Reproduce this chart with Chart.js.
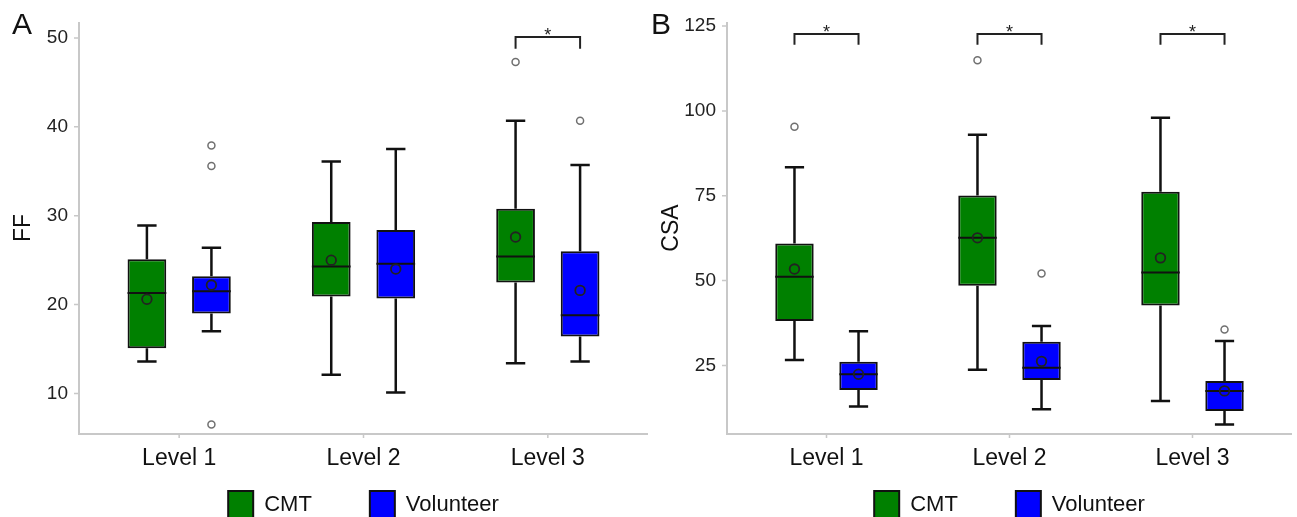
<!DOCTYPE html>
<html>
<head>
<meta charset="utf-8">
<script src="https://cdn.jsdelivr.net/npm/chart.js@4.4.0/dist/chart.umd.min.js"></script>
<style>
  body { margin: 0; background: #fff; }
  #wrap { position: relative; width: 1297px; height: 517px; overflow: hidden; }
  canvas { position: absolute; top: 0; }
</style>
</head>
<body>
<div id="wrap">
  <canvas id="chartA" width="648" height="530" style="left:0"></canvas>
  <canvas id="chartB" width="649" height="530" style="left:648px"></canvas>
</div>
<script>
const levels = ['Level 1', 'Level 2', 'Level 3'];
const groups = ['CMT', 'Volunteer'];

// FF (panel A)
const ffTicks = [10, 20, 30, 40, 50];
const ffCmtMin = [13.6, 12.1, 13.4];
const ffCmtQ1 = [15.1, 20.9, 22.5];
const ffCmtMedian = [21.3, 24.3, 25.4];
const ffCmtQ3 = [25.1, 29.3, 30.8];
const ffCmtMax = [28.9, 36.1, 40.7];
const ffCmtMean = [20.6, 25.0, 27.6];
const ffCmtOutliers = [[], [], [47.3]];
const ffVolMin = [17.0, 10.1, 13.6];
const ffVolQ1 = [19.0, 20.7, 16.4];
const ffVolMedian = [21.5, 24.6, 18.8];
const ffVolQ3 = [23.2, 28.4, 26.0];
const ffVolMax = [26.4, 37.5, 35.7];
const ffVolMean = [22.2, 24.0, 21.6];
const ffVolOutliers = [[37.9, 35.6, 6.5], [], [40.7]];
const ffSignif = [false, false, true];

// CSA (panel B)
const csaTicks = [25, 50, 75, 100, 125];
const csaCmtMin = [26.6, 23.7, 14.5];
const csaCmtQ1 = [38.1, 48.5, 42.7];
const csaCmtMedian = [51.1, 62.6, 52.4];
const csaCmtQ3 = [60.9, 75.1, 76.2];
const csaCmtMax = [83.4, 93.0, 98.0];
const csaCmtMean = [53.4, 62.6, 56.7];
const csaCmtOutliers = [[95.3], [114.9], []];
const csaVolMin = [12.9, 12.1, 7.6];
const csaVolQ1 = [17.8, 20.7, 11.6];
const csaVolMedian = [22.4, 24.3, 17.5];
const csaVolQ3 = [26.1, 32.0, 20.4];
const csaVolMax = [35.1, 36.6, 32.2];
const csaVolMean = [22.4, 26.2, 17.5];
const csaVolOutliers = [[], [52.1], [35.6]];
const csaSignif = [true, true, true];

const FONT = "'Liberation Sans', Arial, sans-serif";
const colors = ['#008000', '#0000ff'];

function boxPlugin(stats, signif, bracketTop, bracketLeg) {
    return {
        id: 'boxExtras',
        afterDatasetsDraw(chart) {
            const ctx = chart.ctx;
            const y = chart.scales.y;
            ctx.save();
            stats.forEach((s, di) => {
                chart.getDatasetMeta(di).data.forEach((bar, i) => {
                    const x = bar.x, w = bar.width;
                    const pMin = y.getPixelForValue(s.min[i]);
                    const pMax = y.getPixelForValue(s.max[i]);
                    const pQ1 = y.getPixelForValue(s.q1[i]);
                    const pQ3 = y.getPixelForValue(s.q3[i]);
                    // whiskers
                    ctx.strokeStyle = '#111';
                    ctx.lineWidth = 2.5;
                    ctx.beginPath();
                    ctx.moveTo(x, pQ3); ctx.lineTo(x, pMax);
                    ctx.moveTo(x, pQ1); ctx.lineTo(x, pMin);
                    ctx.moveTo(x - w / 4, pMax); ctx.lineTo(x + w / 4, pMax);
                    ctx.moveTo(x - w / 4, pMin); ctx.lineTo(x + w / 4, pMin);
                    ctx.stroke();
                    // median
                    const pMed = y.getPixelForValue(s.median[i]);
                    ctx.lineWidth = 2;
                    ctx.beginPath();
                    ctx.moveTo(x - w / 2, pMed); ctx.lineTo(x + w / 2, pMed);
                    ctx.stroke();
                    // mean
                    ctx.strokeStyle = '#222';
                    ctx.lineWidth = 1.8;
                    ctx.beginPath();
                    ctx.arc(x, y.getPixelForValue(s.mean[i]), 4.8, 0, Math.PI * 2);
                    ctx.stroke();
                    // outliers
                    ctx.strokeStyle = '#707070';
                    ctx.lineWidth = 1.5;
                    s.outliers[i].forEach(v => {
                        ctx.beginPath();
                        ctx.arc(x, y.getPixelForValue(v), 3.5, 0, Math.PI * 2);
                        ctx.stroke();
                    });
                });
            });
            // significance brackets
            const m0 = chart.getDatasetMeta(0).data;
            const m1 = chart.getDatasetMeta(1).data;
            const pTop = y.getPixelForValue(bracketTop);
            const pLeg = y.getPixelForValue(bracketLeg);
            signif.forEach((sig, i) => {
                if (!sig) return;
                const x0 = m0[i].x, x1 = m1[i].x;
                ctx.strokeStyle = '#222';
                ctx.lineWidth = 2;
                ctx.beginPath();
                ctx.moveTo(x0, pLeg); ctx.lineTo(x0, pTop); ctx.lineTo(x1, pTop); ctx.lineTo(x1, pLeg);
                ctx.stroke();
                ctx.fillStyle = '#222';
                ctx.font = '18px ' + FONT;
                ctx.textAlign = 'center';
                ctx.textBaseline = 'alphabetic';
                ctx.fillText('*', (x0 + x1) / 2, pTop + 4);
            });
            ctx.restore();
        }
    };
}

function framePlugin(letter, letterX) {
    return {
        id: 'frame',
        afterDraw(chart) {
            const {ctx, chartArea, scales: {x, y}} = chart;
            const left = chartArea.left - 8, right = chartArea.right + 8, bottom = chartArea.bottom;
            ctx.save();
            ctx.strokeStyle = '#c8c8c8';
            ctx.lineWidth = 2;
            ctx.beginPath();
            ctx.moveTo(left, chartArea.top);
            ctx.lineTo(left, bottom);
            ctx.lineTo(right, bottom);
            ctx.stroke();
            ctx.lineWidth = 1.5;
            ctx.beginPath();
            y.ticks.forEach(t => {
                const py = y.getPixelForValue(t.value);
                ctx.moveTo(left - 5, py); ctx.lineTo(left, py);
            });
            x.ticks.forEach((t, i) => {
                const px = x.getPixelForValue(i);
                ctx.moveTo(px, bottom); ctx.lineTo(px, bottom + 4);
            });
            ctx.stroke();
            // category labels
            ctx.fillStyle = '#111';
            ctx.font = '23px ' + FONT;
            ctx.textAlign = 'center';
            ctx.textBaseline = 'middle';
            x.ticks.forEach((t, i) => {
                ctx.fillText(x.getLabelForValue(i), x.getPixelForValue(i), bottom + 25);
            });
            // panel letter
            ctx.font = '30px ' + FONT;
            ctx.textAlign = 'left';
            ctx.textBaseline = 'alphabetic';
            ctx.fillText(letter, letterX, 34);
            ctx.restore();
        }
    };
}

function makeChart(id, o) {
    const stats = [o.cmt, o.vol];
    new Chart(document.getElementById(id), {
        type: 'bar',
        data: {
            labels: levels,
            datasets: stats.map((s, di) => ({
                label: groups[di],
                data: s.q1.map((v, i) => [v, s.q3[i]]),
                backgroundColor: colors[di],
                borderColor: '#111',
                borderWidth: 2,
                borderSkipped: false,
                categoryPercentage: 0.7,
                barPercentage: 0.6
            }))
        },
        options: {
            responsive: false,
            animation: false,
            layout: { padding: { top: 22, right: o.padRight, left: 0, bottom: 0 } },
            scales: {
                x: {
                    grid: { display: false },
                    border: { display: false },
                    ticks: { display: false },
                    afterFit: s => { s.height = -1; }
                },
                y: {
                    min: o.yMin,
                    max: o.yMax,
                    grid: { display: false },
                    border: { display: false },
                    afterBuildTicks: s => { s.ticks = o.ticks.map(v => ({ value: v })); },
                    ticks: { color: '#222', font: { size: 19, family: FONT }, padding: 11 },
                    title: { display: true, text: o.title, color: '#111', font: { size: 23, family: FONT }, padding: { top: 10 } },
                    afterFit: s => { s.width = 87; s.paddingTop = 0; s.paddingBottom = 0; }
                }
            },
            plugins: {
                tooltip: { enabled: false },
                legend: {
                    position: 'bottom',
                    fullSize: false,
                    labels: {
                        boxWidth: 25,
                        boxHeight: 28,
                        padding: 58,
                        color: '#111',
                        font: { size: 22, family: FONT }
                    }
                }
            }
        },
        plugins: [boxPlugin(stats, o.signif, o.bracketTop, o.bracketLeg), framePlugin(o.letter, o.letterX)]
    });
}

makeChart('chartA', {
    cmt: { min: ffCmtMin, q1: ffCmtQ1, median: ffCmtMedian, q3: ffCmtQ3, max: ffCmtMax, mean: ffCmtMean, outliers: ffCmtOutliers },
    vol: { min: ffVolMin, q1: ffVolQ1, median: ffVolMedian, q3: ffVolQ3, max: ffVolMax, mean: ffVolMean, outliers: ffVolOutliers },
    signif: ffSignif, bracketTop: 50.1, bracketLeg: 48.8,
    ticks: ffTicks, yMin: 5.44, yMax: 51.8, title: 'FF',
    letter: 'A', letterX: 12, padRight: 8
});

makeChart('chartB', {
    cmt: { min: csaCmtMin, q1: csaCmtQ1, median: csaCmtMedian, q3: csaCmtQ3, max: csaCmtMax, mean: csaCmtMean, outliers: csaCmtOutliers },
    vol: { min: csaVolMin, q1: csaVolQ1, median: csaVolMedian, q3: csaVolQ3, max: csaVolMax, mean: csaVolMean, outliers: csaVolOutliers },
    signif: csaSignif, bracketTop: 122.7, bracketLeg: 119.5,
    ticks: csaTicks, yMin: 4.8, yMax: 126.2, title: 'CSA',
    letter: 'B', letterX: 3, padRight: 13
});
</script>
</body>
</html>
